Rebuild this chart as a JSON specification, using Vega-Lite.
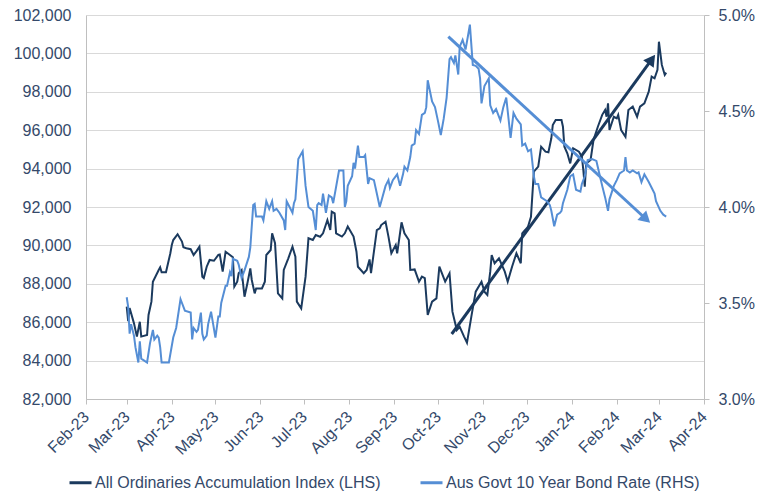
{
  "$schema": "https://vega.github.io/schema/vega-lite/v6.json",
  "width": 618,
  "height": 384,
  "autosize": {"type": "none"},
  "padding": {"left": 86, "top": 15, "right": 55, "bottom": 94},
  "background": "white",
  "config": {
    "view": {"stroke": null},
    "font": "Liberation Sans",
    "axis": {"labelFont": "Liberation Sans", "labelFontSize": 16, "labelColor": "#34496A", "domainColor": "#BFBFBF", "tickColor": "#BFBFBF", "gridColor": "#D9D9D9", "title": null, "labelOverlap": false},
    "axisQuantitative": {"labelOverlap": false}
  },
  "datasets": {
    "allords": [
      {"date":"2023-03-01","value":86810},{"date":"2023-03-02","value":86050},{"date":"2023-03-03","value":86740},{"date":"2023-03-06","value":85940},{"date":"2023-03-08","value":85250},{"date":"2023-03-10","value":86020},{"date":"2023-03-11","value":85250},{"date":"2023-03-15","value":85330},{"date":"2023-03-16","value":86375},{"date":"2023-03-18","value":87070},{"date":"2023-03-19","value":88110},{"date":"2023-03-23","value":88720},{"date":"2023-03-24","value":88860},{"date":"2023-03-25","value":88600},{"date":"2023-03-28","value":88600},{"date":"2023-03-31","value":89590},
      {"date":"2023-04-01","value":90020},{"date":"2023-04-02","value":90280},{"date":"2023-04-05","value":90580},{"date":"2023-04-08","value":90200},{"date":"2023-04-09","value":89900},{"date":"2023-04-11","value":89850},{"date":"2023-04-14","value":89800},{"date":"2023-04-16","value":89500},{"date":"2023-04-18","value":89700},{"date":"2023-04-20","value":89930},{"date":"2023-04-22","value":88370},{"date":"2023-04-23","value":88300},{"date":"2023-04-25","value":88890},{"date":"2023-04-27","value":89240},{"date":"2023-04-30","value":89200},
      {"date":"2023-05-03","value":89500},{"date":"2023-05-04","value":89520},{"date":"2023-05-06","value":88630},{"date":"2023-05-08","value":89670},{"date":"2023-05-11","value":89500},{"date":"2023-05-13","value":89380},{"date":"2023-05-14","value":87850},{"date":"2023-05-16","value":88110},{"date":"2023-05-17","value":88550},{"date":"2023-05-19","value":88720},{"date":"2023-05-21","value":87330},{"date":"2023-05-23","value":88030},{"date":"2023-05-25","value":88800},{"date":"2023-05-26","value":88200},{"date":"2023-05-28","value":87500},{"date":"2023-05-29","value":87760},
      {"date":"2023-06-02","value":87760},{"date":"2023-06-04","value":88110},{"date":"2023-06-05","value":89500},{"date":"2023-06-08","value":89760},{"date":"2023-06-09","value":90630},{"date":"2023-06-11","value":90110},{"date":"2023-06-13","value":87500},{"date":"2023-06-16","value":87240},{"date":"2023-06-17","value":88720},{"date":"2023-06-20","value":89300},{"date":"2023-06-23","value":89930},{"date":"2023-06-25","value":89410},{"date":"2023-06-26","value":87070},{"date":"2023-06-29","value":86720},
      {"date":"2023-07-02","value":88370},{"date":"2023-07-04","value":90370},{"date":"2023-07-07","value":90280},{"date":"2023-07-09","value":90540},{"date":"2023-07-12","value":90450},{"date":"2023-07-14","value":90630},{"date":"2023-07-17","value":91320},{"date":"2023-07-19","value":90800},{"date":"2023-07-20","value":91760},{"date":"2023-07-22","value":91670},{"date":"2023-07-23","value":90630},{"date":"2023-07-27","value":90460},{"date":"2023-07-29","value":90630},{"date":"2023-07-31","value":90980},
      {"date":"2023-08-04","value":90460},{"date":"2023-08-06","value":89670},{"date":"2023-08-07","value":88890},{"date":"2023-08-11","value":88550},{"date":"2023-08-13","value":88720},{"date":"2023-08-15","value":89270},{"date":"2023-08-16","value":88550},{"date":"2023-08-20","value":90800},{"date":"2023-08-22","value":90890},{"date":"2023-08-23","value":91060},{"date":"2023-08-26","value":91230},{"date":"2023-08-28","value":90460},{"date":"2023-08-30","value":89590},
      {"date":"2023-09-02","value":90020},{"date":"2023-09-03","value":89590},{"date":"2023-09-06","value":91200},{"date":"2023-09-08","value":90630},{"date":"2023-09-11","value":90280},{"date":"2023-09-12","value":88720},{"date":"2023-09-15","value":88750},{"date":"2023-09-18","value":88110},{"date":"2023-09-20","value":88370},{"date":"2023-09-22","value":88290},{"date":"2023-09-24","value":86375},{"date":"2023-09-27","value":87070},{"date":"2023-09-30","value":87240},
      {"date":"2023-10-02","value":88890},{"date":"2023-10-06","value":88110},{"date":"2023-10-09","value":88550},{"date":"2023-10-11","value":86550},{"date":"2023-10-14","value":85590},{"date":"2023-10-16","value":85760},{"date":"2023-10-19","value":85250},{"date":"2023-10-21","value":84930},{"date":"2023-10-24","value":86290},{"date":"2023-10-27","value":87590},{"date":"2023-10-31","value":88110},
      {"date":"2023-11-02","value":87590},{"date":"2023-11-04","value":87420},{"date":"2023-11-06","value":88630},{"date":"2023-11-07","value":89500},{"date":"2023-11-09","value":89070},{"date":"2023-11-12","value":89330},{"date":"2023-11-16","value":88630},{"date":"2023-11-18","value":88110},{"date":"2023-11-21","value":88890},{"date":"2023-11-24","value":89590},{"date":"2023-11-27","value":89070},{"date":"2023-11-28","value":90630},{"date":"2023-11-30","value":90800},
      {"date":"2023-12-02","value":90980},{"date":"2023-12-04","value":91490},{"date":"2023-12-06","value":93840},{"date":"2023-12-09","value":94100},{"date":"2023-12-11","value":95140},{"date":"2023-12-14","value":94880},{"date":"2023-12-16","value":94850},{"date":"2023-12-18","value":95580},{"date":"2023-12-19","value":96270},{"date":"2023-12-21","value":96530},{"date":"2023-12-25","value":96530},{"date":"2023-12-26","value":96180},{"date":"2023-12-27","value":95140},{"date":"2023-12-29","value":94800},{"date":"2023-12-31","value":94270},
      {"date":"2024-01-02","value":95060},{"date":"2024-01-06","value":94880},{"date":"2024-01-08","value":94620},{"date":"2024-01-09","value":93930},{"date":"2024-01-10","value":93060},{"date":"2024-01-11","value":94270},{"date":"2024-01-14","value":94450},{"date":"2024-01-16","value":95490},{"date":"2024-01-19","value":96180},{"date":"2024-01-22","value":96800},{"date":"2024-01-24","value":97050},{"date":"2024-01-25","value":96700},{"date":"2024-01-26","value":97400},{"date":"2024-01-27","value":96010},{"date":"2024-01-30","value":96700},
      {"date":"2024-02-01","value":96620},{"date":"2024-02-02","value":96800},{"date":"2024-02-04","value":96010},{"date":"2024-02-07","value":95660},{"date":"2024-02-09","value":97050},{"date":"2024-02-12","value":97230},{"date":"2024-02-15","value":96700},{"date":"2024-02-17","value":97230},{"date":"2024-02-20","value":97400},{"date":"2024-02-23","value":98010},{"date":"2024-02-25","value":98790},{"date":"2024-02-27","value":98700},{"date":"2024-02-29","value":99140},
      {"date":"2024-03-01","value":100610},{"date":"2024-03-03","value":99400},{"date":"2024-03-05","value":98880},{"date":"2024-03-06","value":99000}
    ],
    "bond": [
      {"date":"2023-03-01","rate":3.53},{"date":"2023-03-02","rate":3.48},{"date":"2023-03-03","rate":3.34},{"date":"2023-03-04","rate":3.39},{"date":"2023-03-06","rate":3.33},{"date":"2023-03-07","rate":3.27},{"date":"2023-03-09","rate":3.19},{"date":"2023-03-10","rate":3.30},{"date":"2023-03-11","rate":3.21},{"date":"2023-03-15","rate":3.19},{"date":"2023-03-17","rate":3.29},{"date":"2023-03-19","rate":3.36},{"date":"2023-03-20","rate":3.31},{"date":"2023-03-22","rate":3.33},{"date":"2023-03-23","rate":3.32},{"date":"2023-03-24","rate":3.27},{"date":"2023-03-25","rate":3.19},{"date":"2023-03-30","rate":3.19},
      {"date":"2023-04-02","rate":3.32},{"date":"2023-04-04","rate":3.37},{"date":"2023-04-07","rate":3.52},{"date":"2023-04-08","rate":3.50},{"date":"2023-04-10","rate":3.46},{"date":"2023-04-14","rate":3.45},{"date":"2023-04-15","rate":3.31},{"date":"2023-04-16","rate":3.37},{"date":"2023-04-18","rate":3.35},{"date":"2023-04-19","rate":3.36},{"date":"2023-04-21","rate":3.45},{"date":"2023-04-22","rate":3.34},{"date":"2023-04-23","rate":3.31},{"date":"2023-04-25","rate":3.33},{"date":"2023-04-26","rate":3.39},{"date":"2023-04-28","rate":3.455},
      {"date":"2023-05-01","rate":3.32},{"date":"2023-05-03","rate":3.43},{"date":"2023-05-04","rate":3.43},{"date":"2023-05-05","rate":3.50},{"date":"2023-05-08","rate":3.59},{"date":"2023-05-09","rate":3.59},{"date":"2023-05-11","rate":3.66},{"date":"2023-05-12","rate":3.64},{"date":"2023-05-13","rate":3.73},{"date":"2023-05-16","rate":3.72},{"date":"2023-05-17","rate":3.70},{"date":"2023-05-19","rate":3.63},{"date":"2023-05-21","rate":3.67},{"date":"2023-05-24","rate":3.74},{"date":"2023-05-25","rate":3.79},{"date":"2023-05-26","rate":3.90},{"date":"2023-05-27","rate":4.01},{"date":"2023-05-28","rate":4.016},{"date":"2023-05-29","rate":3.95},
      {"date":"2023-06-02","rate":3.95},{"date":"2023-06-03","rate":3.93},{"date":"2023-06-05","rate":4.03},{"date":"2023-06-07","rate":3.99},{"date":"2023-06-09","rate":4.03},{"date":"2023-06-10","rate":3.98},{"date":"2023-06-12","rate":3.99},{"date":"2023-06-14","rate":3.97},{"date":"2023-06-17","rate":3.93},{"date":"2023-06-18","rate":3.88},{"date":"2023-06-19","rate":4.03},{"date":"2023-06-21","rate":4.00},{"date":"2023-06-23","rate":3.97},{"date":"2023-06-24","rate":4.02},{"date":"2023-06-25","rate":4.04},{"date":"2023-06-27","rate":4.25},{"date":"2023-06-30","rate":4.29},
      {"date":"2023-07-02","rate":4.11},{"date":"2023-07-04","rate":4.00},{"date":"2023-07-07","rate":3.98},{"date":"2023-07-09","rate":3.88},{"date":"2023-07-10","rate":4.01},{"date":"2023-07-11","rate":4.02},{"date":"2023-07-13","rate":4.01},{"date":"2023-07-14","rate":4.07},{"date":"2023-07-16","rate":3.97},{"date":"2023-07-18","rate":4.06},{"date":"2023-07-20","rate":4.05},{"date":"2023-07-21","rate":4.02},{"date":"2023-07-25","rate":4.19},{"date":"2023-07-28","rate":4.19},{"date":"2023-07-29","rate":4.00},{"date":"2023-07-30","rate":4.03},{"date":"2023-07-31","rate":4.11},
      {"date":"2023-08-03","rate":4.16},{"date":"2023-08-04","rate":4.23},{"date":"2023-08-05","rate":4.20},{"date":"2023-08-07","rate":4.32},{"date":"2023-08-08","rate":4.26},{"date":"2023-08-11","rate":4.26},{"date":"2023-08-12","rate":4.27},{"date":"2023-08-14","rate":4.12},{"date":"2023-08-15","rate":4.15},{"date":"2023-08-18","rate":4.14},{"date":"2023-08-20","rate":4.07},{"date":"2023-08-22","rate":4.00},{"date":"2023-08-26","rate":4.11},{"date":"2023-08-28","rate":4.14},{"date":"2023-08-29","rate":4.10},{"date":"2023-08-31","rate":4.14},
      {"date":"2023-09-03","rate":4.17},{"date":"2023-09-05","rate":4.11},{"date":"2023-09-07","rate":4.17},{"date":"2023-09-08","rate":4.21},{"date":"2023-09-10","rate":4.19},{"date":"2023-09-12","rate":4.26},{"date":"2023-09-13","rate":4.32},{"date":"2023-09-15","rate":4.33},{"date":"2023-09-16","rate":4.40},{"date":"2023-09-18","rate":4.38},{"date":"2023-09-20","rate":4.48},{"date":"2023-09-22","rate":4.49},{"date":"2023-09-23","rate":4.52},{"date":"2023-09-24","rate":4.66},{"date":"2023-09-27","rate":4.55},{"date":"2023-09-29","rate":4.52},
      {"date":"2023-10-01","rate":4.45},{"date":"2023-10-03","rate":4.375},{"date":"2023-10-05","rate":4.46},{"date":"2023-10-07","rate":4.57},{"date":"2023-10-09","rate":4.77},{"date":"2023-10-10","rate":4.78},{"date":"2023-10-12","rate":4.75},{"date":"2023-10-13","rate":4.79},{"date":"2023-10-15","rate":4.69},{"date":"2023-10-16","rate":4.835},{"date":"2023-10-18","rate":4.87},{"date":"2023-10-20","rate":4.82},{"date":"2023-10-22","rate":4.905},{"date":"2023-10-23","rate":4.95},{"date":"2023-10-25","rate":4.74},{"date":"2023-10-27","rate":4.735},{"date":"2023-10-29","rate":4.72},{"date":"2023-10-30","rate":4.67},{"date":"2023-10-31","rate":4.54},
      {"date":"2023-11-02","rate":4.63},{"date":"2023-11-05","rate":4.67},{"date":"2023-11-06","rate":4.53},{"date":"2023-11-08","rate":4.49},{"date":"2023-11-10","rate":4.51},{"date":"2023-11-13","rate":4.45},{"date":"2023-11-15","rate":4.52},{"date":"2023-11-17","rate":4.57},{"date":"2023-11-18","rate":4.50},{"date":"2023-11-20","rate":4.36},{"date":"2023-11-22","rate":4.49},{"date":"2023-11-24","rate":4.46},{"date":"2023-11-27","rate":4.43},{"date":"2023-11-28","rate":4.32},{"date":"2023-11-30","rate":4.33},
      {"date":"2023-12-02","rate":4.29},{"date":"2023-12-04","rate":4.30},{"date":"2023-12-06","rate":4.16},{"date":"2023-12-07","rate":4.12},{"date":"2023-12-09","rate":4.12},{"date":"2023-12-11","rate":4.05},{"date":"2023-12-15","rate":4.03},{"date":"2023-12-17","rate":4.01},{"date":"2023-12-18","rate":3.98},{"date":"2023-12-20","rate":3.90},{"date":"2023-12-22","rate":3.96},{"date":"2023-12-24","rate":3.97},{"date":"2023-12-25","rate":3.98},{"date":"2023-12-26","rate":4.02},{"date":"2023-12-29","rate":4.09},{"date":"2023-12-31","rate":4.16},
      {"date":"2024-01-02","rate":4.17},{"date":"2024-01-04","rate":4.09},{"date":"2024-01-07","rate":4.08},{"date":"2024-01-08","rate":4.12},{"date":"2024-01-10","rate":4.16},{"date":"2024-01-12","rate":4.245},{"date":"2024-01-15","rate":4.25},{"date":"2024-01-18","rate":4.24},{"date":"2024-01-20","rate":4.175},{"date":"2024-01-22","rate":4.11},{"date":"2024-01-24","rate":4.05},{"date":"2024-01-26","rate":3.98},{"date":"2024-01-27","rate":4.04},{"date":"2024-01-30","rate":4.11},
      {"date":"2024-02-01","rate":4.14},{"date":"2024-02-03","rate":4.175},{"date":"2024-02-06","rate":4.19},{"date":"2024-02-07","rate":4.26},{"date":"2024-02-08","rate":4.19},{"date":"2024-02-10","rate":4.18},{"date":"2024-02-12","rate":4.19},{"date":"2024-02-15","rate":4.175},{"date":"2024-02-16","rate":4.18},{"date":"2024-02-18","rate":4.13},{"date":"2024-02-20","rate":4.17},{"date":"2024-02-23","rate":4.13},{"date":"2024-02-25","rate":4.10},{"date":"2024-02-27","rate":4.07},{"date":"2024-02-28","rate":4.03},
      {"date":"2024-03-02","rate":3.98},{"date":"2024-03-04","rate":3.96},{"date":"2024-03-06","rate":3.95}
    ],
    "arrowDark": [{"date":"2023-10-10T12:00:00Z","value":85385},{"date":"2024-02-25T02:00:00Z","value":99687}],
    "headDark": [{"date":"2024-02-25T02:00:00Z","value":99687}],
    "arrowLight": [{"date":"2023-10-08T04:00:00Z","rate":4.887},{"date":"2024-02-21T02:00:00Z","rate":3.9375}],
    "headLight": [{"date":"2024-02-21T02:00:00Z","rate":3.9375}]
  },
  "layer": [
    {
      "layer": [
        {
          "data": {"name": "allords"},
          "mark": {"type": "line", "strokeWidth": 2, "interpolate": "linear"},
          "encoding": {
            "x": {"field": "date", "type": "temporal", "scale": {"type": "utc", "domain": ["2023-02-01", "2024-04-01"]}, "axis": {"format": "%b-%y", "tickCount": {"interval": "month", "step": 1}, "labelAngle": -45, "labelAlign": "right", "labelBaseline": "middle", "labelPadding": 10, "tickSize": 5, "grid": false, "domain": true, "ticks": true, "labelOverlap": false, "labelFlush": false}},
            "y": {"field": "value", "type": "quantitative", "scale": {"domain": [82000, 102000], "nice": false, "zero": false}, "axis": {"orient": "left", "values": [82000, 84000, 86000, 88000, 90000, 92000, 94000, 96000, 98000, 100000, 102000], "format": ",.0f", "grid": true, "ticks": false, "domain": true, "labelPadding": 15, "labelOverlap": false}},
            "color": {"datum": "All Ordinaries Accumulation Index (LHS)", "type": "nominal", "scale": {"domain": ["All Ordinaries Accumulation Index (LHS)", "Aus Govt 10 Year Bond Rate (RHS)"], "range": ["#1B3A5E", "#558ED5"]}, "legend": {"orient": "none", "legendX": -18, "legendY": 455, "direction": "horizontal", "title": null, "symbolType": "stroke", "symbolSize": 484, "symbolStrokeWidth": 3, "labelFontSize": 16, "labelColor": "#34496A", "labelFont": "Liberation Sans", "labelOffset": 2, "columnPadding": 32, "labelLimit": 0, "padding": 0}}
          }
        },
        {
          "data": {"name": "arrowDark"},
          "mark": {"type": "line", "strokeWidth": 3, "color": "#1B3A5E"},
          "encoding": {
            "x": {"field": "date", "type": "temporal", "axis": {"format": "%b-%y", "tickCount": {"interval": "month", "step": 1}, "labelAngle": -45, "labelAlign": "right", "labelBaseline": "middle", "labelPadding": 10, "tickSize": 5, "grid": false, "domain": true, "ticks": true, "labelOverlap": false, "labelFlush": false}},
            "y": {"field": "value", "type": "quantitative", "axis": {"orient": "left", "values": [82000, 84000, 86000, 88000, 90000, 92000, 94000, 96000, 98000, 100000, 102000], "format": ",.0f", "grid": true, "ticks": false, "domain": true, "labelPadding": 15, "labelOverlap": false}}
          }
        },
        {
          "data": {"name": "headDark"},
          "mark": {"type": "point", "shape": "triangle-up", "filled": true, "size": 170, "angle": 36.1, "color": "#1B3A5E", "opacity": 1},
          "encoding": {
            "x": {"field": "date", "type": "temporal", "axis": {"format": "%b-%y", "tickCount": {"interval": "month", "step": 1}, "labelAngle": -45, "labelAlign": "right", "labelBaseline": "middle", "labelPadding": 10, "tickSize": 5, "grid": false, "domain": true, "ticks": true, "labelOverlap": false, "labelFlush": false}},
            "y": {"field": "value", "type": "quantitative", "axis": {"orient": "left", "values": [82000, 84000, 86000, 88000, 90000, 92000, 94000, 96000, 98000, 100000, 102000], "format": ",.0f", "grid": true, "ticks": false, "domain": true, "labelPadding": 15, "labelOverlap": false}}
          }
        }
      ]
    },
    {
      "layer": [
        {
          "data": {"name": "bond"},
          "mark": {"type": "line", "strokeWidth": 2},
          "encoding": {
            "x": {"field": "date", "type": "temporal", "axis": {"format": "%b-%y", "tickCount": {"interval": "month", "step": 1}, "labelAngle": -45, "labelAlign": "right", "labelBaseline": "middle", "labelPadding": 10, "tickSize": 5, "grid": false, "domain": true, "ticks": true, "labelOverlap": false, "labelFlush": false}},
            "y": {"field": "rate", "type": "quantitative", "scale": {"domain": [3.0, 5.0], "nice": false, "zero": false}, "axis": {"orient": "right", "values": [3.0, 3.5, 4.0, 4.5, 5.0], "labelExpr": "format(datum.value, '.1f') + '%'", "grid": false, "ticks": true, "tickSize": 5, "domain": true, "labelPadding": 9, "labelOverlap": false}},
            "color": {"datum": "Aus Govt 10 Year Bond Rate (RHS)", "type": "nominal"}
          }
        },
        {
          "data": {"name": "arrowLight"},
          "mark": {"type": "line", "strokeWidth": 3, "color": "#558ED5"},
          "encoding": {
            "x": {"field": "date", "type": "temporal", "axis": {"format": "%b-%y", "tickCount": {"interval": "month", "step": 1}, "labelAngle": -45, "labelAlign": "right", "labelBaseline": "middle", "labelPadding": 10, "tickSize": 5, "grid": false, "domain": true, "ticks": true, "labelOverlap": false, "labelFlush": false}},
            "y": {"field": "rate", "type": "quantitative", "axis": {"orient": "right", "values": [3.0, 3.5, 4.0, 4.5, 5.0], "labelExpr": "format(datum.value, '.1f') + '%'", "grid": false, "ticks": true, "tickSize": 5, "domain": true, "labelPadding": 9, "labelOverlap": false}}
          }
        },
        {
          "data": {"name": "headLight"},
          "mark": {"type": "point", "shape": "triangle-up", "filled": true, "size": 170, "angle": 132.7, "color": "#558ED5", "opacity": 1},
          "encoding": {
            "x": {"field": "date", "type": "temporal", "axis": {"format": "%b-%y", "tickCount": {"interval": "month", "step": 1}, "labelAngle": -45, "labelAlign": "right", "labelBaseline": "middle", "labelPadding": 10, "tickSize": 5, "grid": false, "domain": true, "ticks": true, "labelOverlap": false, "labelFlush": false}},
            "y": {"field": "rate", "type": "quantitative", "axis": {"orient": "right", "values": [3.0, 3.5, 4.0, 4.5, 5.0], "labelExpr": "format(datum.value, '.1f') + '%'", "grid": false, "ticks": true, "tickSize": 5, "domain": true, "labelPadding": 9, "labelOverlap": false}}
          }
        }
      ]
    }
  ],
  "resolve": {"scale": {"y": "independent"}}
}
